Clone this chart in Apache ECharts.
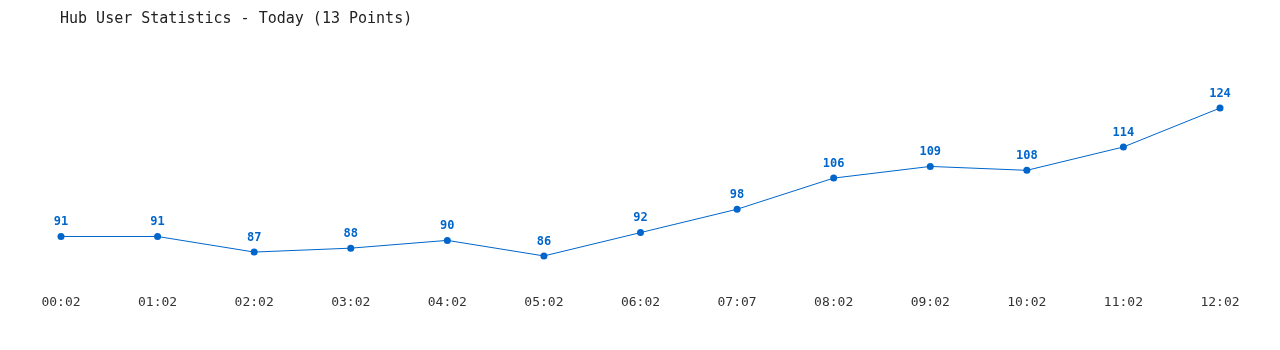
<!DOCTYPE html>
<html>
<head>
<meta charset="utf-8">
<script src="https://cdn.jsdelivr.net/npm/echarts@6/dist/echarts.min.js"></script>
<style>html,body{margin:0;padding:0;background:#fff}#c{width:1280px;height:350px}</style>
</head>
<body>
<div id="c"></div>
<script>
const titleText = 'Hub User Statistics - Today (13 Points)';
const categories = ['00:02','01:02','02:02','03:02','04:02','05:02','06:02','07:07','08:02','09:02','10:02','11:02','12:02'];
const users = [91,91,87,88,90,86,92,98,106,109,108,114,124];

const chart = echarts.init(document.getElementById('c'));
chart.setOption({
  animation: false,
  backgroundColor: '#ffffff',
  title: {
    text: titleText,
    left: 55,
    top: 7,
    textStyle: { fontFamily: 'DejaVu Sans Mono', fontSize: 15, fontWeight: 'normal', color: '#222222' }
  },
  grid: { left: 61, right: 60, top: 84.7, bottom: 70.7 },
  xAxis: {
    type: 'category',
    data: categories,
    boundaryGap: false,
    axisLine: { show: false },
    axisTick: { show: false },
    axisLabel: { margin: 17, fontFamily: 'DejaVu Sans Mono', fontSize: 13, color: '#333333' }
  },
  yAxis: {
    type: 'value',
    min: 80,
    max: 130,
    show: false,
    splitLine: { show: false }
  },
  series: [{
    type: 'line',
    data: users,
    symbol: 'circle',
    symbolSize: 7,
    lineStyle: { width: 1, color: '#0066cc' },
    itemStyle: { color: '#0066cc' },
    label: {
      show: true,
      position: 'top',
      distance: 5,
      fontFamily: 'DejaVu Sans Mono',
      fontSize: 12,
      fontWeight: 'bold',
      color: '#0066cc'
    }
  }]
});
</script>
</body>
</html>
